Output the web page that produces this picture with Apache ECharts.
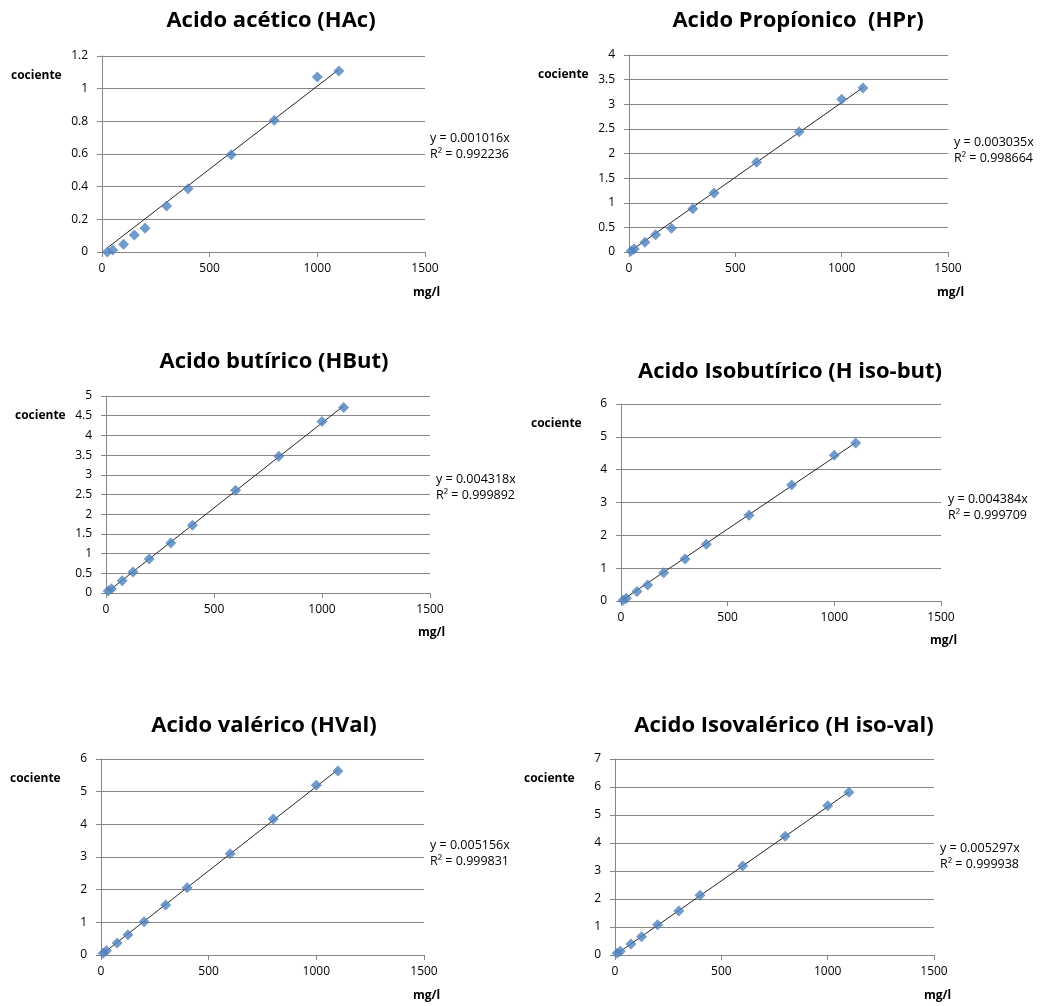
<!DOCTYPE html>
<html>
<head>
<meta charset="utf-8">
<script src="https://cdn.jsdelivr.net/npm/echarts@6/dist/echarts.min.js"></script>
<style>
  html, body { margin: 0; padding: 0; background: #ffffff; }
  #main { width: 1048px; height: 1006px; }
</style>
</head>
<body>
<div id="main"></div>
<script>
// Calibration curves: concentration (mg/l) vs. peak-area ratio ("cociente")
const concAcetic = [25, 50, 100, 150, 200, 300, 400, 600, 800, 1000, 1100];
const concOthers = [10, 25, 75, 125, 200, 300, 400, 600, 800, 1000, 1100];

const ratioHAc    = [0.00, 0.012, 0.047, 0.104, 0.145, 0.281, 0.387, 0.595, 0.807, 1.071, 1.108];
const ratioHPr    = [0.02, 0.06, 0.20, 0.35, 0.48, 0.88, 1.20, 1.82, 2.44, 3.10, 3.33];
const ratioHBut   = [0.05, 0.11, 0.31, 0.53, 0.86, 1.27, 1.72, 2.61, 3.47, 4.35, 4.71];
const ratioHIsoBut = [0.02, 0.08, 0.29, 0.49, 0.86, 1.28, 1.73, 2.61, 3.53, 4.44, 4.81];
const ratioHVal   = [0.05, 0.13, 0.37, 0.62, 1.02, 1.53, 2.06, 3.10, 4.16, 5.20, 5.63];
const ratioHIsoVal = [0.06, 0.13, 0.39, 0.65, 1.08, 1.57, 2.13, 3.18, 4.24, 5.33, 5.81];

const titles = [
  'Acido acético (HAc)',
  'Acido Propíonico  (HPr)',
  'Acido butírico (HBut)',
  'Acido Isobutírico (H iso-but)',
  'Acido valérico (HVal)',
  'Acido Isovalérico (H iso-val)'
];
const slopes = [0.001016, 0.003035, 0.004318, 0.004384, 0.005156, 0.005297];
const r2Values = ['0.992236', '0.998664', '0.999892', '0.999709', '0.999831', '0.999938'];
const yMax = [1.2, 4, 5, 6, 6, 7];
const yStep = [0.2, 0.5, 0.5, 1, 1, 1];
const xMax = 1500;
const xStep = 500;
const xAxisName = 'mg/l';
const yAxisName = 'cociente';

const concs = [concAcetic, concOthers, concOthers, concOthers, concOthers, concOthers];
const ratios = [ratioHAc, ratioHPr, ratioHBut, ratioHIsoBut, ratioHVal, ratioHIsoVal];

// Panel layout (pixels)
const panels = [
  { grid: { left: 102, top: 56, width: 323, height: 196 }, title: [271, 21], yName: [11, 76], xName: [413, 293], eq: [430, 138] },
  { grid: { left: 629, top: 55, width: 319, height: 197 }, title: [798, 21], yName: [538, 75], xName: [937, 293], eq: [954, 142] },
  { grid: { left: 106, top: 396, width: 324, height: 197 }, title: [274, 362], yName: [15, 416], xName: [418, 633], eq: [436, 479] },
  { grid: { left: 621, top: 404, width: 320, height: 197 }, title: [790, 372], yName: [531, 424], xName: [930, 641], eq: [948, 499] },
  { grid: { left: 101, top: 759, width: 323, height: 196 }, title: [264, 726], yName: [10, 779], xName: [413, 996], eq: [430, 845] },
  { grid: { left: 615, top: 759, width: 319, height: 196 }, title: [784, 726], yName: [524, 779], xName: [924, 996], eq: [940, 848] }
];

const FONT = '"Open Sans", "Noto Sans", sans-serif';
const GRID_COLOR = '#868686';
const TEXT_COLOR = '#000000';

const grid = [], xAxis = [], yAxis = [], series = [], graphic = [];

panels.forEach((p, i) => {
  grid.push(Object.assign({ containLabel: false }, p.grid));

  xAxis.push({
    type: 'value', gridIndex: i, min: 0, max: xMax, interval: xStep,
    axisLine: { show: true, lineStyle: { color: GRID_COLOR, width: 1 } },
    axisTick: { show: true, length: 5, lineStyle: { color: GRID_COLOR } },
    axisLabel: { margin: 11, fontFamily: FONT, fontSize: 12, color: TEXT_COLOR, formatter: v => String(v) },
    splitLine: { show: false }
  });
  yAxis.push({
    type: 'value', gridIndex: i, min: 0, max: yMax[i], interval: yStep[i],
    axisLine: { show: true, lineStyle: { color: GRID_COLOR, width: 1 } },
    axisTick: { show: true, length: 5, lineStyle: { color: GRID_COLOR } },
    axisLabel: { margin: 14, fontFamily: FONT, fontSize: 12, color: TEXT_COLOR, formatter: v => String(+v.toFixed(2)) },
    splitLine: { show: true, lineStyle: { color: GRID_COLOR, width: 1 } }
  });

  const xs = concs[i];
  const ys = ratios[i];
  const xLo = Math.min.apply(null, xs);
  const xHi = Math.max.apply(null, xs);

  // Linear fit through the origin, spanning the measured range
  series.push({
    type: 'line', xAxisIndex: i, yAxisIndex: i,
    data: [[xLo, slopes[i] * xLo], [xHi, slopes[i] * xHi]],
    symbol: 'none', silent: true, z: 3,
    lineStyle: { color: '#262626', width: 1 }
  });
  series.push({
    type: 'scatter', xAxisIndex: i, yAxisIndex: i,
    data: xs.map((x, k) => [x, ys[k]]),
    symbol: 'diamond', symbolSize: [11, 11], z: 4,
    itemStyle: { color: '#4F81BD' }
  });

  graphic.push({
    type: 'text', x: p.title[0], y: p.title[1],
    style: { text: titles[i], font: 'bold 22px ' + FONT, fill: TEXT_COLOR, align: 'center', verticalAlign: 'middle' }
  });
  graphic.push({
    type: 'text', x: p.yName[0], y: p.yName[1],
    style: { text: yAxisName, font: 'bold 12px ' + FONT, fill: TEXT_COLOR, align: 'left', verticalAlign: 'middle' }
  });
  graphic.push({
    type: 'text', x: p.xName[0], y: p.xName[1],
    style: { text: xAxisName, font: 'bold 12px ' + FONT, fill: TEXT_COLOR, align: 'left', verticalAlign: 'middle' }
  });
  graphic.push({
    type: 'text', x: p.eq[0], y: p.eq[1],
    style: { text: 'y = ' + slopes[i].toFixed(6) + 'x', font: '12.5px ' + FONT, fill: TEXT_COLOR, align: 'left', verticalAlign: 'middle' }
  });
  graphic.push({
    type: 'text', x: p.eq[0], y: p.eq[1] + 16,
    style: { text: 'R² = ' + r2Values[i], font: '12.5px ' + FONT, fill: TEXT_COLOR, align: 'left', verticalAlign: 'middle' }
  });
});

const chart = echarts.init(document.getElementById('main'), null, { renderer: 'canvas' });
chart.setOption({
  backgroundColor: '#ffffff',
  animation: false,
  grid, xAxis, yAxis, series, graphic
});
</script>
</body>
</html>
